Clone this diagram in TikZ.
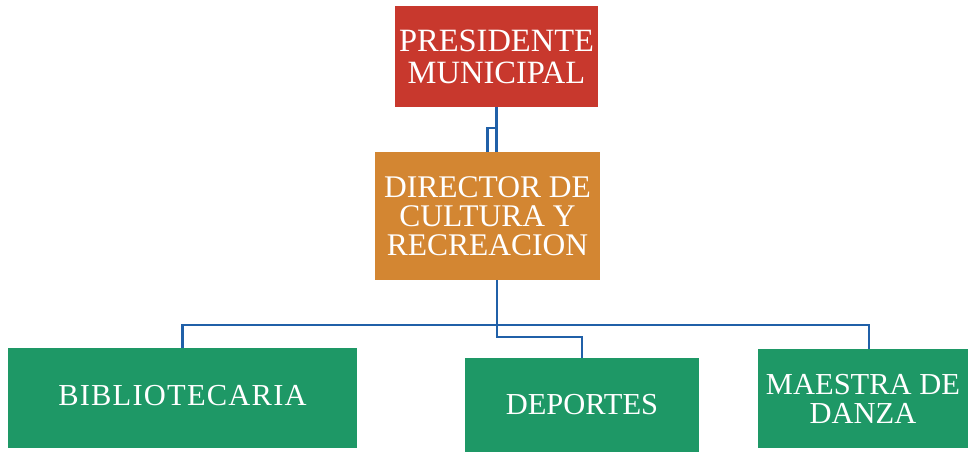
\documentclass[tikz,border=0pt]{standalone}
\usepackage{fontspec}
\setmainfont{Liberation Serif}
\definecolor{presred}{RGB}{200,56,45}
\definecolor{dirorange}{RGB}{211,134,50}
\definecolor{staffgreen}{RGB}{30,152,102}
\definecolor{linkblue}{RGB}{32,96,168}
\begin{document}
\begin{tikzpicture}[x=1pt,y=-1pt,
        box/.style={inner sep=0pt,align=center,text=white,font=\fontsize{32.5}{32}\selectfont},
        link/.style={draw=linkblue,line width=2.6pt}]
        \useasboundingbox (0,0) rectangle (977,454);
        \node[box,fill=presred,minimum width=203pt,minimum height=101pt] (pres) at (496.5,56.5) {PRESIDENTE\\MUNICIPAL};
        \node[box,fill=dirorange,minimum width=225pt,minimum height=128pt,font=\fontsize{31.5}{29}\selectfont] (dir) at (487.5,216) {DIRECTOR DE\\CULTURA Y\\RECREACION};
        \foreach \n/\x/\y/\w/\h/\t in {bib/182.5/398/349/100/{\raisebox{6pt}{\addfontfeature{LetterSpace=4}BIBLIOTECARIA}},dep/582/405/234/94/DEPORTES,mae/863/398.5/210/99/MAESTRA DE\\DANZA} {
            \node[box,fill=staffgreen,minimum width=\w pt,minimum height=\h pt,font=\fontsize{30.5}{29}\selectfont] (\n) at (\x,\y) {\t};
        }
        \coordinate (dirout) at (497,280);
        \coordinate (bus) at (497,325);
        \coordinate (maein) at (869,349);
        \draw[link] (pres.south) -- (pres.south |- dir.north);
        \draw[link] (pres.south) -- ++(0,21) -| (dir.north);
        \draw[link] (dirout) -- (bus);
        \draw[link] (bib.north) |- (bus) -| (maein);
        \draw[link] (bus) -- ++(0,12) -| (dep.north);
\end{tikzpicture}
\end{document}
